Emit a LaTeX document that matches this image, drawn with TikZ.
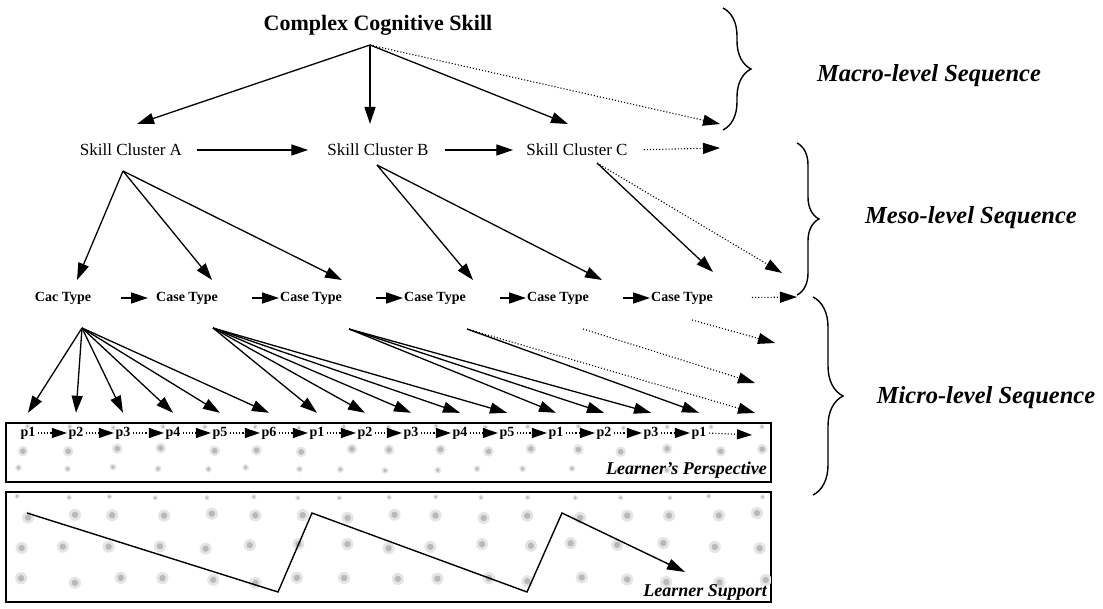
\documentclass[tikz,border=0pt]{standalone}
\usepackage{fontspec}
\setmainfont{Liberation Serif}
\usetikzlibrary{arrows.meta,decorations.pathreplacing}

\begin{document}
\begin{tikzpicture}[x=1pt,y=-1pt,
  conn/.style={line width=1.3pt,-{Triangle[length=17pt,width=11pt]}},
  dconn/.style={conn,line width=1.1pt,dash pattern=on 1.1pt off 2pt},
  pconn/.style={line width=1.1pt,dash pattern=on 1.1pt off 2pt,-{Triangle[length=15pt,width=10pt]}},
  toplabel/.style={font=\bfseries\fontsize{22}{26}\selectfont,inner sep=1pt},
  skill/.style={font=\fontsize{17}{20}\selectfont,inner sep=1pt},
  casetype/.style={font=\bfseries\fontsize{14}{16}\selectfont,inner sep=1pt},
  task/.style={font=\bfseries\fontsize{14}{16}\selectfont,inner sep=1.5pt,minimum height=40pt},
  level/.style={font=\bfseries\itshape\fontsize{24.5}{28}\selectfont,inner sep=1pt},
  boxlabel/.style={font=\bfseries\itshape\fontsize{18}{21}\selectfont,anchor=base east,inner sep=1pt},
  panel/.style={draw,line width=1.4pt,anchor=north west,inner sep=0pt},
  blob/.style={fill=gray!55},
  halo/.style={fill=gray!20},
  zigzag/.style={line width=1.4pt,-{Triangle[length=18pt,width=11pt]}}
]
\useasboundingbox (0,0) rectangle (1103,609);

% ---------- speckled panels ----------
\node[panel,minimum width=764pt,minimum height=58pt] (persp) at (6,423) {};
\node[panel,minimum width=764pt,minimum height=109pt] (support) at (6,492) {};
\pgfmathsetseed{17}
% one speckle: soft grey halo with a darker core
\newcommand{\speckle}[3]{%
  \fill[halo] (#1,#2) circle[radius=#3*1.9pt];
  \fill[blob] (#1,#2) circle[radius=#3*1pt];}
\foreach \c in {0,...,16} {
  \pgfmathsetmacro{\xa}{24+46*\c+4*rand}
  \pgfmathsetmacro{\xb}{26+46*\c+5*rand}
  \pgfmathsetmacro{\xc}{20+46*\c+5*rand}
  \pgfmathsetmacro{\xd}{22+46*\c+5*rand}
  \pgfmathsetmacro{\xe}{25+46*\c+5*rand}
  \pgfmathsetmacro{\xf}{21+46*\c+5*rand}
  \pgfmathsetmacro{\xg}{25+46*\c+5*rand}
  \pgfmathsetmacro{\ya}{427+rand}
  \pgfmathsetmacro{\yb}{450+2*rand}
  \pgfmathsetmacro{\yc}{469+2*rand}
  \pgfmathsetmacro{\yd}{497+rand}
  \pgfmathsetmacro{\ye}{515+3*rand}
  \pgfmathsetmacro{\yf}{546+3*rand}
  \pgfmathsetmacro{\yg}{580+3*rand}
  \speckle{\xa}{\ya}{1.4}
  \speckle{\xb}{\yb}{2.8}
  \speckle{\xc}{\yc}{1.8}
  \speckle{\xd}{\yd}{1.4}
  \speckle{\xe}{\ye}{3.2}
  \speckle{\xf}{\yf}{3.2}
  \speckle{\xg}{\yg}{3.2}
}
\draw[panel] (persp.north west) rectangle (persp.south east);
\draw[panel] (support.north west) rectangle (support.south east);

% ---------- macro level ----------
\node[toplabel] (ccs) at (378,25) {Complex Cognitive Skill};
\coordinate (ccsOut) at (370,45);

\node[skill] (scA) at (131,150) {Skill Cluster A};
\node[skill] (scB) at (378,150) {Skill Cluster B};
\node[skill] (scC) at (577,150) {Skill Cluster C};

\coordinate (scAin) at (137,124);
\coordinate (scBin) at (370,124);
\coordinate (scCin) at (568,124);
\coordinate (macroMore) at (720,124);
\coordinate (scCmore) at (720,148);

\draw[conn] (ccsOut) -- (scAin);
\draw[conn] (ccsOut) -- (scBin);
\draw[conn] (ccsOut) -- (scCin);
\draw[dconn] (ccsOut) -- (macroMore);

\draw[conn,shorten <=14pt,shorten >=18pt] (scA.east) -- (scB.west);
\draw[conn,shorten <=15pt,shorten >=12pt] (scB.east) -- (scC.west);
\draw[dconn,shorten <=15pt] (scC.east) -- (scCmore);

% ---------- meso level ----------
\node[casetype] (ct1) at (63,298) {Cac Type};
\node[casetype] (ct2) at (187,298) {Case Type};
\node[casetype] (ct3) at (311,298) {Case Type};
\node[casetype] (ct4) at (435,298) {Case Type};
\node[casetype] (ct5) at (558,298) {Case Type};
\node[casetype] (ct6) at (682,298) {Case Type};

\coordinate (scAout) at (123,171);
\coordinate (scBout) at (377,165);
\coordinate (scCout) at (597,163);
\coordinate (ct1in) at (77,280);
\coordinate (ct2in) at (212,280);
\coordinate (ct3in) at (342,280);
\coordinate (ct4in) at (473,280);
\coordinate (ct5in) at (602,280);
\coordinate (ct6in) at (713,272);
\coordinate (mesoMore) at (782,273);
\coordinate (ctMore) at (797,297);

\draw[conn] (scAout) -- (ct1in);
\draw[conn] (scAout) -- (ct2in);
\draw[conn] (scAout) -- (ct3in);
\draw[conn] (scBout) -- (ct4in);
\draw[conn] (scBout) -- (ct5in);
\draw[conn] (scCout) -- (ct6in);
\draw[dconn] (scCout) -- (mesoMore);

\draw[conn,shorten <=29pt,shorten >=7pt] (ct1.east) -- (ct2.west);
\draw[conn,shorten <=33pt] (ct2.east) -- (ct3.west);
\draw[conn,shorten <=33pt] (ct3.east) -- (ct4.west);
\draw[conn,shorten <=33pt] (ct4.east) -- (ct5.west);
\draw[conn,shorten <=33pt] (ct5.east) -- (ct6.west);
\draw[dconn,shorten <=38pt] (ct6.east) -- (ctMore);

% ---------- micro level ----------
\foreach \n/\x/\t in {a1/28/p1,a2/76/p2,a3/123/p3,a4/173/p4,a5/220/p5,a6/269/p6,
                      b1/317/p1,b2/365/p2,b3/411/p3,b4/460/p4,b5/507/p5,
                      c1/556/p1,c2/604/p2,c3/651/p3,d1/699/p1} {
  \node[task] (p\n) at (\x,433) {\t};
}
\coordinate (pEnd) at (752,435);

\foreach \a/\b in {a1/a2,a2/a3,a3/a4,a4/a5,a5/a6,a6/b1,
                   b1/b2,b2/b3,b3/b4,b4/b5,b5/c1,
                   c1/c2,c2/c3,c3/d1} {
  \draw[pconn,shorten <=1pt] (p\a.east) -- (p\b.west);
}
\draw[pconn,shorten <=1pt] (pd1.east) -- (pEnd);

\coordinate (ct1out) at (82,328);
\coordinate (ct2out) at (213,328);
\coordinate (ct3out) at (349,329);
\coordinate (ct4out) at (467,329);
\coordinate (ct5out) at (583,329);
\coordinate (ct6out) at (692,320);
\coordinate (microMoreA) at (775,343);
\coordinate (microMoreB) at (755,383);
\coordinate (microMoreC) at (755,413);

\foreach \n in {a1,a2,a3,a4,a5,a6} \draw[conn] (ct1out) -- (p\n.north);
\foreach \n in {b1,b2,b3,b4,b5} \draw[conn] (ct2out) -- (p\n.north);
\foreach \n in {c1,c2,c3} \draw[conn] (ct3out) -- (p\n.north);
\draw[conn] (ct4out) -- (pd1.north);
\draw[dconn] (ct4out) -- (microMoreC);
\draw[dconn] (ct5out) -- (microMoreB);
\draw[dconn] (ct6out) -- (microMoreA);

\node[boxlabel] (perspLbl) at (768,474) {Learner's Perspective};
\node[boxlabel] (supportLbl) at (768,596) {Learner Support};

% learner support fading in zigzag
\draw[zigzag] (27,513) -- (278,592) -- (312,513) -- (527,592) -- (562,513) -- (685,572);

% ---------- level braces ----------
\coordinate (macroTop) at (723,8);
\coordinate (macroBot) at (723,130);
\coordinate (mesoTop) at (797,143);
\coordinate (mesoBot) at (797,295);
\coordinate (microTop) at (813,297);
\coordinate (microBot) at (813,495);
\draw[decorate,decoration={brace,amplitude=28pt},line width=1.4pt] (macroTop) -- (macroBot);
\draw[decorate,decoration={brace,amplitude=22pt},line width=1.4pt] (mesoTop) -- (mesoBot);
\draw[decorate,decoration={brace,amplitude=30pt},line width=1.4pt] (microTop) -- (microBot);

\node[level] (macroLbl) at (929,76) {Macro-level Sequence};
\node[level] (mesoLbl) at (971,218) {Meso-level Sequence};
\node[level] (microLbl) at (986,398) {Micro-level Sequence};
\end{tikzpicture}
\end{document}
